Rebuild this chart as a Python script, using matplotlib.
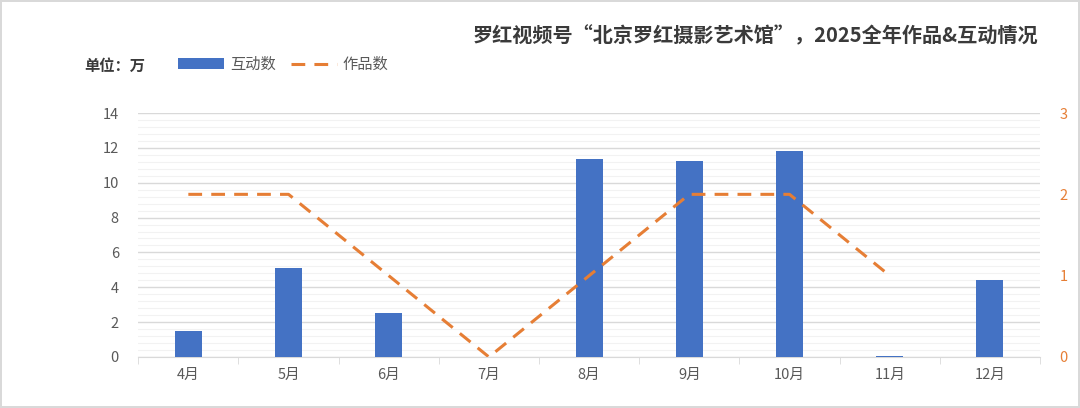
import matplotlib
matplotlib.use("Agg")
import matplotlib.pyplot as plt
import numpy as np
from matplotlib.ticker import MultipleLocator

plt.rcParams['font.family'] = ['Noto Sans CJK SC', 'DejaVu Sans']

months = ["4月", "5月", "6月", "7月", "8月", "9月", "10月", "11月", "12月"]
interactions = [1.5, 5.1, 2.55, 0.0, 11.38, 11.25, 11.82, 0.05, 4.42]
works = [2, 2, 1, 0, 1, 2, 2, 1, np.nan]

BLUE = "#4472C4"
ORANGE = "#E67E35"
GREY = "#595959"

fig = plt.figure(figsize=(10.8, 4.08), dpi=100)
fig.patch.set_edgecolor("#D9D9D9")
fig.patch.set_linewidth(1.5)
ax = fig.add_axes([0.128, 0.125, 0.835, 0.598])

x = np.arange(len(months))
ax.bar(x, interactions, width=0.27, color=BLUE, zorder=3, label="互动数")
ax.set_ylim(0, 14)
ax.set_xlim(-0.5, len(months) - 0.5)
ax.yaxis.set_major_locator(MultipleLocator(2))
ax.yaxis.set_minor_locator(MultipleLocator(0.4))
ax.grid(axis="y", which="major", color="#D9D9D9", linewidth=1, zorder=0)
ax.grid(axis="y", which="minor", color="#F2F2F2", linewidth=0.8, zorder=0)
ax.set_xticks(x)
ax.set_xticklabels(months)
ax.set_xticks(np.arange(-0.5, len(months)), minor=True)
ax.tick_params(axis="x", which="major", length=0, colors=GREY, labelsize=10.5, pad=8)
ax.tick_params(axis="x", which="minor", length=5, color="#D9D9D9")
ax.tick_params(axis="y", which="both", length=0, colors=GREY, labelsize=10.5, pad=14)
for s in ["top", "right", "left"]:
    ax.spines[s].set_visible(False)
ax.spines["bottom"].set_color("#D9D9D9")

ax2 = ax.twinx()
ax2.plot(x, works, color=ORANGE, linestyle=(0, (4.5, 3)), linewidth=2.2, label="作品数", zorder=4)
ax2.set_ylim(0, 3)
ax2.yaxis.set_major_locator(MultipleLocator(1))
ax2.tick_params(axis="y", length=0, colors=ORANGE, labelsize=10.5, pad=14)
for s in ["top", "right", "left", "bottom"]:
    ax2.spines[s].set_visible(False)

fig.text(0.961, 0.912, "罗红视频号“北京罗红摄影艺术馆”，2025全年作品&互动情况",
         ha="right", va="center", fontsize=14.5, fontweight="bold", color="#3A3A3A")
fig.text(0.078, 0.838, "单位：万", ha="left", va="center", fontsize=11,
         fontweight="bold", color="#3A3A3A")

h1, l1 = ax.get_legend_handles_labels()
h2, l2 = ax2.get_legend_handles_labels()
fig.legend(h1 + h2, l1 + l2, loc="center left", bbox_to_anchor=(0.152, 0.842),
           ncol=2, frameon=False, fontsize=11, labelcolor=GREY,
           handlelength=3.0, columnspacing=1.0, handletextpad=0.4)

fig.savefig("out.png", dpi=100)
